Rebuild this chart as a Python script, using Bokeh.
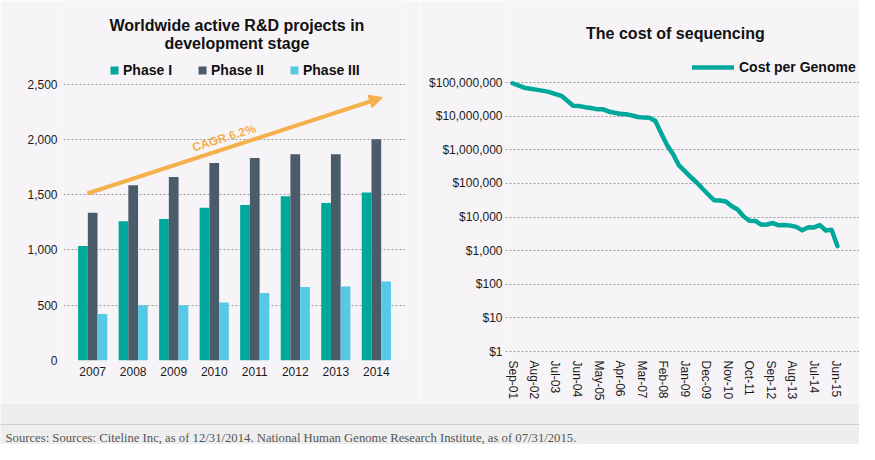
import datetime as dt
import pandas as pd
from bokeh.plotting import figure
from bokeh.models import (ColumnDataSource, FactorRange, Range1d, FixedTicker, Legend, LegendItem,
                          Arrow, NormalHead, Label, NumeralTickFormatter, DatetimeTickFormatter, Span)
from bokeh.transform import dodge
from bokeh.layouts import row, column
from bokeh.embed import file_html
from bokeh.resources import INLINE

# ---------------- data: left chart ----------------
years = ["2007", "2008", "2009", "2010", "2011", "2012", "2013", "2014"]
phase1 = [1035, 1260, 1280, 1380, 1405, 1485, 1425, 1520]
phase2 = [1335, 1585, 1660, 1785, 1830, 1865, 1865, 2000]
phase3 = [420, 500, 500, 525, 610, 665, 670, 715]
left_ticks = [0, 500, 1000, 1500, 2000, 2500]
cagr_text = "CAGR 6.2%"
cagr_start = (0.37, 1510)   # (synthetic x, value)
cagr_end = (7.65, 2378)

# ---------------- data: right chart ----------------
cost_dates = ["2001-09", "2002-03", "2002-09", "2003-03", "2003-10", "2004-01", "2004-04", "2004-07",
              "2004-10", "2005-01", "2005-04", "2005-07", "2005-10", "2006-01", "2006-04", "2006-07",
              "2006-10", "2007-01", "2007-04", "2007-07", "2007-10", "2008-01", "2008-04", "2008-07",
              "2008-10", "2009-01", "2009-04", "2009-07", "2009-10", "2010-01", "2010-04", "2010-07",
              "2010-10", "2011-01", "2011-04", "2011-07", "2011-10", "2012-01", "2012-04", "2012-07",
              "2012-10", "2013-01", "2013-04", "2013-07", "2013-10", "2014-01", "2014-04", "2014-07",
              "2014-10", "2015-01", "2015-04", "2015-07"]
cost_values = [95263072, 70175437, 61448422, 53751684, 40157554, 28780376, 20442576, 19934346,
               18519312, 17534970, 16159699, 16180224, 13801124, 12585659, 11732535, 11455315,
               10474556, 9408739, 9047003, 8927342, 7147571, 3063820, 1352982, 752080,
               342502, 232735, 154714, 108065, 70333, 46774, 31512, 31125,
               29092, 20963, 16712, 10497, 7743, 7666, 5901, 5985,
               6618, 5671, 5826, 5550, 5096, 4008, 4920, 4905,
               5731, 3970, 4211, 1363]
date_tick_labels = ["Sep-01", "Aug-02", "Jul-03", "Jun-04", "May-05", "Apr-06", "Mar-07", "Feb-08",
                    "Jan-09", "Dec-09", "Nov-10", "Oct-11", "Sep-12", "Aug-13", "Jul-14", "Jun-15"]
right_ticks = [1, 10, 100, 1000, 10000, 100000, 1000000, 10000000, 100000000]

footer_text = ("Sources: Sources: Citeline Inc, as of 12/31/2014. National Human Genome Research "
               "Institute, as of 07/31/2015.")

# ---------------- styles ----------------
BG = "#f7f4f7"
FOOT_BG = "#eeeeee"
TEAL = "#00a79b"
SLATE = "#4a5b69"
SKY = "#55c9e6"
ORANGE = "#f4b04c"
FONT = "Liberation Sans"
GRID = "#9a9a9a"


def style(p):
    p.background_fill_color = BG
    p.border_fill_color = BG
    p.outline_line_color = None
    p.xgrid.grid_line_color = None
    p.ygrid.grid_line_color = GRID
    p.ygrid.grid_line_dash = "2 2"
    p.ygrid.grid_line_width = 1
    for ax in p.axis:
        ax.axis_line_color = None
        ax.major_tick_line_color = None
        ax.minor_tick_line_color = None
        ax.major_tick_out = 0
        ax.major_tick_in = 0
        ax.minor_tick_out = 0
        ax.major_label_text_font = FONT
        ax.major_label_text_font_size = "12px"
        ax.major_label_text_color = "#1a1a1a"


# ---------------- left chart ----------------
p1 = figure(width=420, height=403, title=None,
            x_range=FactorRange(factors=years, range_padding=0.22, range_padding_units="absolute"),
            y_range=Range1d(0, 3255), output_backend="svg", toolbar_location=None,
            min_border_left=63, min_border_right=15, min_border_top=0, min_border_bottom=43)
style(p1)
p1.yaxis.ticker = FixedTicker(ticks=left_ticks)
p1.yaxis.formatter = NumeralTickFormatter(format="0,0")
p1.yaxis.major_label_standoff = 6
p1.xaxis.major_label_standoff = 6

src1 = ColumnDataSource(dict(years=years, phase1=phase1, phase2=phase2, phase3=phase3))
r1 = p1.vbar(x=dodge("years", -0.24, range=p1.x_range), top="phase1", width=0.24, source=src1,
             fill_color=TEAL, line_color=None)
r2 = p1.vbar(x=dodge("years", 0.0, range=p1.x_range), top="phase2", width=0.24, source=src1,
             fill_color=SLATE, line_color=None)
r3 = p1.vbar(x=dodge("years", 0.24, range=p1.x_range), top="phase3", width=0.24, source=src1,
             fill_color=SKY, line_color=None)

leg1 = Legend(items=[LegendItem(label="Phase I", renderers=[r1]),
                     LegendItem(label="Phase II", renderers=[r2]),
                     LegendItem(label="Phase III", renderers=[r3])],
              orientation="horizontal", location=(46, 282),
              glyph_width=10, glyph_height=10, label_standoff=4, spacing=25,
              padding=0, margin=0, border_line_color=None, background_fill_alpha=0,
              label_text_font=FONT, label_text_font_style="bold", label_text_font_size="14px",
              label_text_color="#111111", label_height=14)
p1.add_layout(leg1)

p1.add_layout(Arrow(end=NormalHead(size=13, fill_color=ORANGE, line_color=ORANGE, line_width=1),
                    x_start=cagr_start[0], y_start=cagr_start[1],
                    x_end=cagr_end[0], y_end=cagr_end[1],
                    line_color=ORANGE, line_width=4))
p1.add_layout(Label(x=3.74, y=2012, text=cagr_text, angle=0.305, text_align="center",
                    text_baseline="middle", text_color=ORANGE, text_font=FONT,
                    text_font_style="bold", text_font_size="12px"))
p1.add_layout(Label(x=4.06, y=3029, text="Worldwide active R&D projects in", text_align="center",
                    text_baseline="alphabetic", text_font=FONT, text_font_style="bold",
                    text_font_size="16px", text_color="#111111"))
p1.add_layout(Label(x=4.06, y=2869, text="development stage", text_align="center",
                    text_baseline="alphabetic", text_font=FONT, text_font_style="bold",
                    text_font_size="16px", text_color="#111111"))

# ---------------- right chart ----------------
x0 = dt.datetime(2001, 5, 15)
x1 = x0 + dt.timedelta(days=5503)
p2 = figure(width=439, height=403, title=None, x_axis_type="datetime", y_axis_type="log",
            x_range=Range1d(x0, x1), y_range=Range1d(10 ** (-9 / 33.625), 10 ** 10.44),
            output_backend="svg", toolbar_location=None,
            min_border_left=85, min_border_right=0, min_border_top=0, min_border_bottom=43)
style(p2)
p2.yaxis.ticker = FixedTicker(ticks=right_ticks)
p2.yaxis.formatter = NumeralTickFormatter(format="$0,0")
p2.yaxis.major_label_standoff = 3

tick_dates = pd.to_datetime(date_tick_labels, format="%b-%y")
p2.xaxis.ticker = FixedTicker(ticks=(tick_dates.asi8 // 1_000_000).tolist())
fmt = "%b-%y"
p2.xaxis.formatter = DatetimeTickFormatter(days=fmt, months=fmt, years=fmt, hours=fmt,
                                           minutes=fmt, seconds=fmt, milliseconds=fmt,
                                           microseconds=fmt, hourmin=fmt, minsec=fmt)
p2.xaxis.major_label_orientation = "vertical"
p2.xaxis.major_label_standoff = 0

src2 = ColumnDataSource(dict(date=pd.to_datetime(cost_dates, format="%Y-%m"), cost=cost_values))
line_r = p2.line(x="date", y="cost", source=src2, line_color=TEAL, line_width=4.5,
                 line_join="round", line_cap="round")
swatch = p2.rect(x=[], y=[], width=1, height=1, fill_color=TEAL, line_color=None)

leg2 = Legend(items=[LegendItem(label="Cost per Genome", renderers=[line_r, swatch])],
              orientation="horizontal", location=(187, 285),
              glyph_width=42, glyph_height=10, label_standoff=5,
              padding=0, margin=0, border_line_color=None, background_fill_alpha=0,
              label_text_font=FONT, label_text_font_style="bold", label_text_font_size="14px",
              label_text_color="#111111", label_height=14)
p2.add_layout(leg2)

title_x = x0 + (x1 - x0) * 0.480
p2.add_layout(Label(x=title_x, y=2.86e9, text="The cost of sequencing", text_align="center",
                    text_baseline="alphabetic", text_font=FONT, text_font_style="bold",
                    text_font_size="16px", text_color="#111111"))

# ---------------- footer ----------------
p3 = figure(width=859, height=41, title=None, x_range=Range1d(0, 859), y_range=Range1d(41, 0),
            output_backend="svg", toolbar_location=None, x_axis_location=None, y_axis_location=None,
            min_border=0)
p3.background_fill_color = FOOT_BG
p3.border_fill_color = FOOT_BG
p3.outline_line_color = None
p3.grid.grid_line_color = None
p3.add_layout(Span(location=21, dimension="width", line_color="#cccccc", line_width=1))
p3.add_layout(Label(x=5, y=34, text=footer_text, text_baseline="middle", text_align="left",
                    text_font="Liberation Serif", text_font_size="12.7px", text_color="#555555"))

layout = column(row(p1, p2), p3)
open("out.html", "w").write(file_html(layout, INLINE))
